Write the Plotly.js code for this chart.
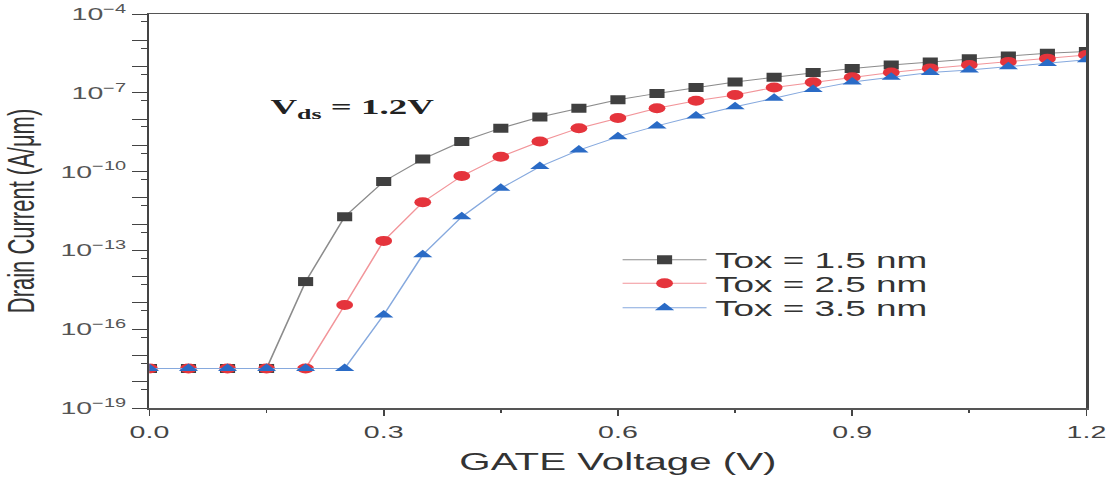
<!DOCTYPE html>
<html><head><meta charset="utf-8">
<script src="https://cdn.plot.ly/plotly-3.0.1.min.js"></script>
<style>
html,body{margin:0;padding:0;background:#fff;overflow:hidden;width:1115px;height:477px;}
#chart{width:664px;height:477px;transform:scaleX(1.6792);transform-origin:0 0;}
</style>
</head><body><div id="chart"></div>
<script>
const gateVoltage = [0,0.05,0.1,0.15,0.2,0.25,0.3,0.35,0.4,0.45,0.5,0.55,0.6,0.65,0.7,0.75,0.8,0.85,0.9,0.95,1.0,1.05,1.1,1.15,1.2];
const tox15 = [3.2e-18,3.2e-18,3.2e-18,3.2e-18,6.5e-15,1.9e-12,4.2e-11,3.0e-10,1.4e-9,4.5e-9,1.2e-8,2.6e-8,5.4e-8,9.5e-8,1.6e-7,2.6e-7,3.9e-7,5.9e-7,8.5e-7,1.15e-6,1.5e-6,2.0e-6,2.5e-6,3.2e-6,3.7e-6];
const tox25 = [3.2e-18,3.2e-18,3.2e-18,3.2e-18,3.2e-18,8.3e-16,2.3e-13,6.8e-12,6.8e-11,3.7e-10,1.4e-9,4.5e-9,1.1e-8,2.6e-8,5.0e-8,8.3e-8,1.6e-7,2.5e-7,3.9e-7,5.9e-7,8.5e-7,1.15e-6,1.5e-6,2.0e-6,2.75e-6];
const tox35 = [3.2e-18,3.2e-18,3.2e-18,3.2e-18,3.2e-18,3.2e-18,3.5e-16,6.8e-14,1.9e-12,2.3e-11,1.55e-10,6.6e-10,2.1e-9,5.5e-9,1.3e-8,2.95e-8,6.2e-8,1.35e-7,2.6e-7,3.9e-7,5.9e-7,7.4e-7,9.8e-7,1.3e-6,1.8e-6];
const seriesNames = ["Tox = 1.5 nm","Tox = 2.5 nm","Tox = 3.5 nm"];
const yLabelVals = [1e-19,1e-16,1e-13,1e-10,1e-7,1e-4];
const yLabelText = ["10<sup>−19</sup>","10<sup>−16</sup>","10<sup>−13</sup>","10<sup>−10</sup>","10<sup>−7</sup>","10<sup>−4</sup>"];
const yDecadeVals = [1e-18,1e-17,1e-15,1e-14,1e-12,1e-11,1e-9,1e-8,1e-6,1e-5];
const yHalfVals = [5e-19,5e-18,5e-17,5e-16,5e-15,5e-14,5e-13,5e-12,5e-11,5e-10,5e-9,5e-8,5e-7,5e-6,5e-5];
const xTickVals = [0,0.3,0.6,0.9,1.2];
const xTickText = ["0.0","0.3","0.6","0.9","1.2"];

const styles = [
  {color:"#404040", line:"#8c8c8c", symbol:"square", size:9, legend:"legend"},
  {color:"#e5343c", line:"#f2959a", symbol:"circle", size:10, legend:"legend2"},
  {color:"#2a6bc6", line:"#86a9de", symbol:"triangle-up", size:10, legend:"legend3"}
];
const ys = [tox15, tox25, tox35];
const traces = ys.map((y,i)=>({
  x: gateVoltage, y: y, name: seriesNames[i], type:"scatter", mode:"lines+markers",
  legend: styles[i].legend,
  line:{color:styles[i].line, width:1},
  marker:{color:styles[i].color, symbol:styles[i].symbol, size:styles[i].size}
}));
traces.push({x:[], y:[], yaxis:"y2", type:"scatter", mode:"markers", showlegend:false, hoverinfo:"skip"});

const legendFont = {family:"Liberation Sans, Arial, sans-serif", size:22, color:"#333"};
function legendAt(y){
  return {x:0.496, y:y, xanchor:"left", yanchor:"middle", bgcolor:"rgba(0,0,0,0)", font:legendFont, itemwidth:50, borderwidth:0};
}
const axisFont = "Liberation Sans, Arial, sans-serif";
const layout = {
  width:664, height:477,
  margin:{l:89, r:17, t:14, b:69},
  paper_bgcolor:"#fff", plot_bgcolor:"#fff",
  showlegend:true,
  legend:legendAt(0.3756),
  legend2:legendAt(0.316),
  legend3:legendAt(0.2538),
  xaxis:{range:[0,1.2], tickvals:xTickVals, ticktext:xTickText, ticks:"outside", ticklen:6,
    tickcolor:"#444", showline:true, linecolor:"#555", linewidth:1.5, mirror:true, showgrid:false, zeroline:false,
    tickfont:{family:axisFont, size:17, color:"#444"}, ticklabelstandoff:2,
    minor:{dtick:0.15, tick0:0, ticks:"outside", ticklen:3, tickcolor:"#444"},
    title:{text:"GATE Voltage (V)", font:{family:axisFont, size:24, color:"#333"}, standoff:12}},
  yaxis:{type:"log", range:[-19,-4], tickvals:yLabelVals, ticktext:yLabelText, ticks:"outside", ticklen:9,
    tickcolor:"#444", showline:true, linecolor:"#444", linewidth:1.5, mirror:true, showgrid:false, zeroline:false,
    tickfont:{family:axisFont, size:17, color:"#555"},
    minor:{tickvals:yDecadeVals, ticks:"outside", ticklen:9, tickcolor:"#444"},
    title:{text:"Drain Current (A/μm)", font:{family:axisFont, size:22, color:"#333"}, standoff:14}},
  yaxis2:{type:"log", range:[-19,-4], overlaying:"y", side:"left", anchor:"x", tickvals:yHalfVals,
    showticklabels:false, ticks:"outside", ticklen:4, tickcolor:"#444", showline:false, showgrid:false, zeroline:false},
  annotations:[{x:0.26, y:-7.58, xref:"x", yref:"y", text:"<b>V<sub>ds</sub> = 1.2V</b>", showarrow:false,
    xanchor:"center", yanchor:"middle", font:{family:"Liberation Serif, Times New Roman, serif", size:22, color:"#222"}}]
};
Plotly.newPlot("chart", traces, layout, {displayModeBar:false, staticPlot:true});
</script></body></html>
